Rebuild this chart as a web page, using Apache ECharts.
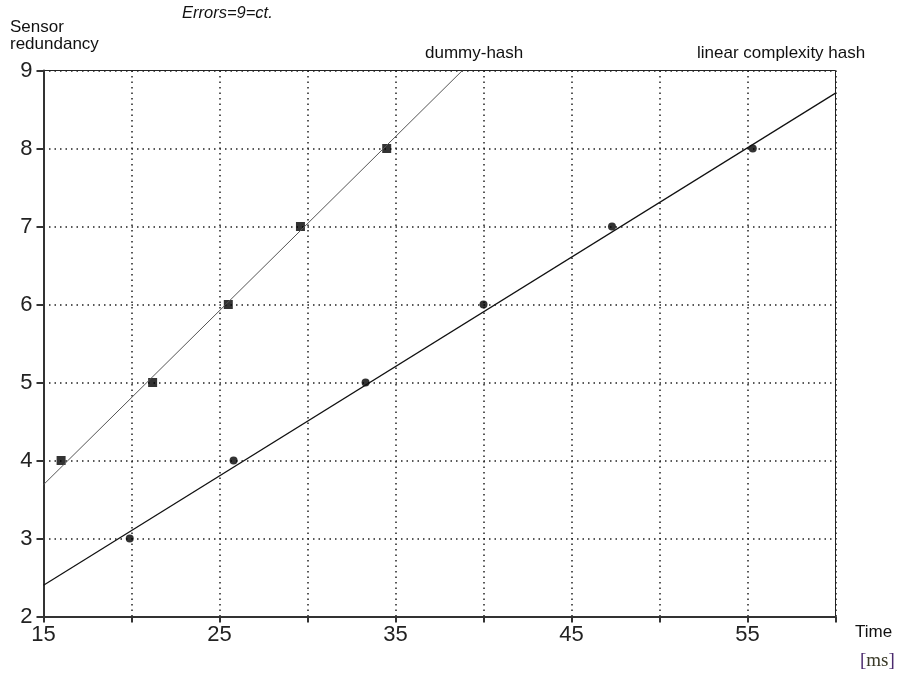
<!DOCTYPE html>
<html>
<head>
<meta charset="utf-8">
<script src="https://cdn.jsdelivr.net/npm/echarts@6/dist/echarts.min.js"></script>
<style>
  html, body { margin: 0; padding: 0; background: #fff; }
  #chart { width: 901px; height: 680px; }
</style>
</head>
<body>
<div id="chart"></div>
<script>
// Measured points: [time ms, sensor redundancy]
const dummyHashPoints = [[16.0, 4], [21.2, 5], [25.5, 6], [29.6, 7], [34.5, 8]];
const linearHashPoints = [[19.9, 3], [25.8, 4], [33.3, 5], [40.0, 6], [47.3, 7], [55.3, 8]];
// Fitted trend lines (end points)
const dummyHashFit = [[15, 3.69], [38.8, 9]];
const linearHashFit = [[15, 2.40], [60, 8.71]];
// Axis ranges and labelled ticks
const xRange = [15, 60];
const yRange = [2, 9];
const xLabelled = [15, 25, 35, 45, 55];

const chart = echarts.init(document.getElementById('chart'), null, { renderer: 'canvas' });
const font = '"Liberation Sans", Arial, sans-serif';
const serif = '"Liberation Serif", "DejaVu Serif", serif';

const gridLine = { show: true, lineStyle: { color: '#222', width: 1.5, type: [1.5, 4] } };

chart.setOption({
  animation: false,
  backgroundColor: '#fff',
  grid: {
    left: 43.5, right: 65.5, top: 70.5, bottom: 63.5,
    show: true, borderColor: '#222', borderWidth: 1, backgroundColor: 'transparent'
  },
  xAxis: {
    type: 'value', min: xRange[0], max: xRange[1], interval: 5,
    axisLine: { show: true, lineStyle: { color: '#333', width: 2 } },
    axisTick: { show: true, length: 6, lineStyle: { color: '#333', width: 2 } },
    axisLabel: {
      color: '#222', fontFamily: font, fontSize: 22, margin: 7,
      formatter: v => (xLabelled.indexOf(v) >= 0 ? String(v) : '')
    },
    splitLine: gridLine
  },
  yAxis: {
    type: 'value', min: yRange[0], max: yRange[1], interval: 1,
    axisLine: { show: true, lineStyle: { color: '#333', width: 2 } },
    axisTick: { show: true, length: 7, lineStyle: { color: '#333', width: 2 } },
    axisLabel: { color: '#222', fontFamily: font, fontSize: 22, margin: 11 },
    splitLine: gridLine
  },
  series: [
    {
      name: 'dummy-hash fit', type: 'line', data: dummyHashFit, symbol: 'none',
      lineStyle: { color: '#555', width: 1 }, silent: true
    },
    {
      name: 'linear complexity hash fit', type: 'line', data: linearHashFit, symbol: 'none',
      lineStyle: { color: '#111', width: 1.2 }, silent: true
    },
    {
      name: 'dummy-hash', type: 'scatter', data: dummyHashPoints,
      symbol: 'rect', symbolSize: 9, itemStyle: { color: '#000' }
    },
    {
      name: 'linear complexity hash', type: 'scatter', data: linearHashPoints,
      symbol: 'circle', symbolSize: 8, itemStyle: { color: '#000' }
    }
  ],
  graphic: [
    { type: 'text', left: 10, top: 19, style: { text: 'Sensor\nredundancy', fontFamily: font, fontSize: 17, lineHeight: 17, fill: '#111' } },
    { type: 'text', left: 182, top: 5, style: { text: 'Errors=9=ct.', fontFamily: font, fontStyle: 'italic', fontSize: 16.5, fill: '#111' } },
    { type: 'text', left: 425, top: 45, style: { text: 'dummy-hash', fontFamily: font, fontSize: 17, fill: '#111' } },
    { type: 'text', left: 697, top: 45, style: { text: 'linear complexity hash', fontFamily: font, fontSize: 17, fill: '#111' } },
    { type: 'text', left: 855, top: 624, style: { text: 'Time', fontFamily: font, fontSize: 17, fill: '#111' } },
    {
      type: 'text', left: 860, top: 652,
      style: {
        text: '{b|[}{m|ms}{b|]}',
        rich: {
          b: { fontFamily: serif, fontSize: 19, fill: '#4b2a6e' },
          m: { fontFamily: serif, fontSize: 19, fill: '#3a3a28' }
        }
      }
    }
  ]
});
</script>
</body>
</html>
